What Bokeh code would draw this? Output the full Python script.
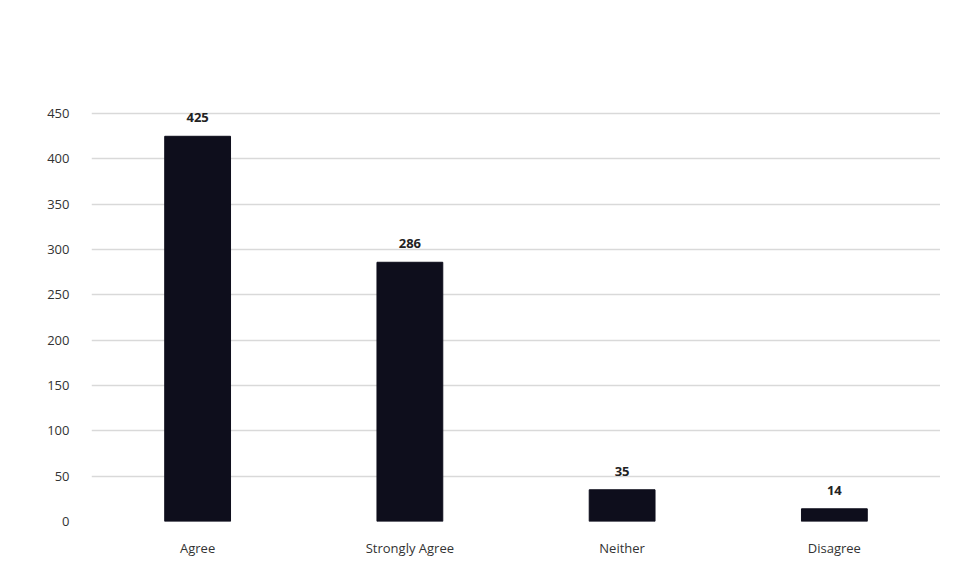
from bokeh.plotting import figure
from bokeh.models import ColumnDataSource, Range1d, FixedTicker, LabelSet
from bokeh.core.properties import value
from bokeh.embed import file_html
from bokeh.resources import INLINE

categories = ["Agree", "Strongly Agree", "Neither", "Disagree"]
counts = [425, 286, 35, 14]
y_ticks = [0, 50, 100, 150, 200, 250, 300, 350, 400, 450]

src = ColumnDataSource(dict(cat=categories, val=counts, lab=[str(c) for c in counts]))

p = figure(x_range=categories, width=940, height=562, output_backend="svg",
           toolbar_location=None, min_border_left=91, min_border_right=0,
           min_border_top=95, min_border_bottom=41)
p.y_range = Range1d(0, 470)
p.vbar(x="cat", top="val", width=0.31, source=src, fill_color="#0e0e1c",
       line_color="#0e0e1c")

labels = LabelSet(x="cat", y="val", text="lab", source=src, text_align="center",
                  text_baseline="bottom", y_offset=14, text_font=value("Open Sans"),
                  text_font_size="13px", text_font_style="bold", text_color="#222222")
p.add_layout(labels)

p.outline_line_color = None
p.xgrid.grid_line_color = None
p.ygrid.grid_line_color = "#d9d9d9"
p.ygrid.grid_line_width = 1.5
p.yaxis.ticker = FixedTicker(ticks=y_ticks)
for ax in (p.xaxis[0], p.yaxis[0]):
    ax.axis_line_color = None
    ax.major_tick_line_color = None
    ax.minor_tick_line_color = None
    ax.major_label_text_font = "Open Sans"
    ax.major_label_text_font_size = "13px"
    ax.major_label_text_color = "#333333"
p.yaxis.major_label_standoff = 16
p.xaxis.major_label_standoff = 11

open("out.html", "w").write(file_html(p, INLINE))
